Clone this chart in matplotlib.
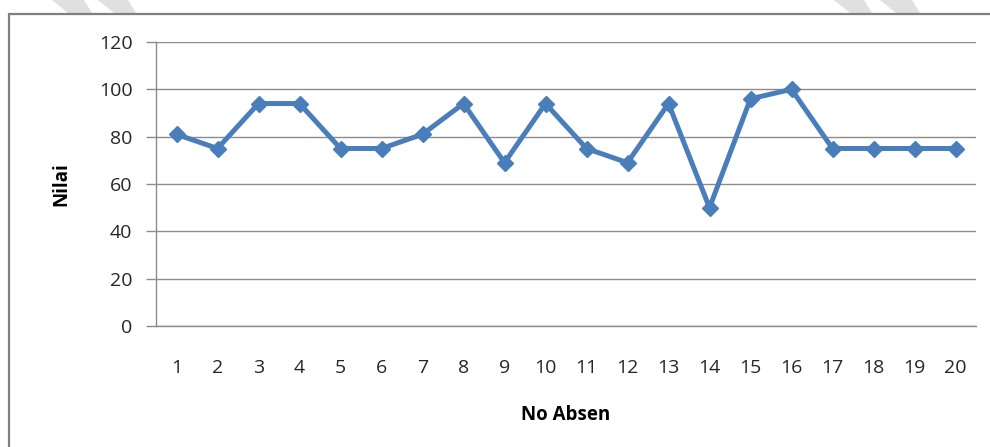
import matplotlib.pyplot as plt
from matplotlib.patches import Rectangle, Polygon

# --- data ---
no_absen = list(range(1, 21))
nilai = [81, 75, 94, 94, 75, 75, 81, 94, 69, 94, 75, 69, 94, 50, 96, 100, 75, 75, 75, 75]
y_ticks = [0, 20, 40, 60, 80, 100, 120]

line_color = "#4a7ebb"
grid_color = "#8c8c8c"

plt.rcParams["font.family"] = ["Open Sans", "DejaVu Sans"]

fig = plt.figure(figsize=(9.9, 4.47), dpi=100)
ax = fig.add_axes([156 / 990, 1 - 326 / 447, 820 / 990, 284 / 447])

# faint watermark stripes at the top edge
for x0, x1 in [(52, 84), (98, 128), (834, 864), (880, 912)]:
    pts = [(x0 / 990, 1.0), (x1 / 990, 1.0), ((x1 + 8) / 990, 1 - 13 / 447), ((x0 + 16) / 990, 1 - 13 / 447)]
    fig.patches.append(Polygon(pts, closed=True, transform=fig.transFigure,
                               facecolor="#e0e0e0", edgecolor="none", zorder=0))

# chart border (runs off the right and bottom of the image)
fig.patches.append(Rectangle((9 / 990, -0.05), 1.1, 0.05 + (447 - 14) / 447,
                             transform=fig.transFigure, fill=False,
                             edgecolor="#7f7f7f", linewidth=1.6, zorder=1))

ax.plot(no_absen, nilai, color=line_color, linewidth=3.6, marker="D",
        markersize=8.5, markerfacecolor=line_color, markeredgecolor=line_color,
        zorder=3, clip_on=False)

ax.set_xlim(0.5, 20.5)
ax.set_ylim(0, 120)
ax.set_yticks(y_ticks)
ax.set_xticks(no_absen)
ax.set_xticklabels([str(v) for v in no_absen])

ax.grid(axis="y", color=grid_color, linewidth=1.0)
ax.set_axisbelow(True)
for side in ["top", "right"]:
    ax.spines[side].set_visible(False)
ax.spines["left"].set_color(grid_color)
ax.spines["bottom"].set_color(grid_color)
ax.spines["left"].set_linewidth(1.0)
ax.spines["bottom"].set_linewidth(1.0)

ax.tick_params(axis="y", length=7, color=grid_color, width=1.0, pad=10,
               labelsize=14, labelcolor="#262626")
ax.tick_params(axis="x", length=0, pad=24, labelsize=14, labelcolor="#262626")

ax.set_ylabel("Nilai", fontsize=13.5, fontweight="bold", labelpad=20)
ax.set_xlabel("No Absen", fontsize=13.5, fontweight="bold", labelpad=20)

fig.savefig("out.png", dpi=100)
